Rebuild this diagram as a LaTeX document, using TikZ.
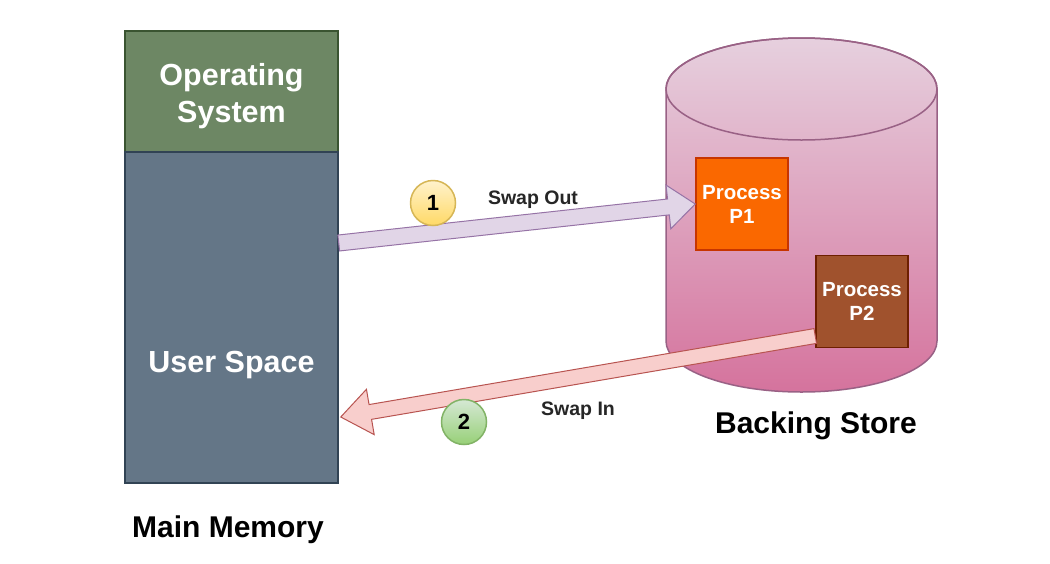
\documentclass[tikz,border=0pt]{standalone}
\usepackage{fontspec}
\setmainfont{Liberation Sans}
\usetikzlibrary{calc}
\definecolor{osfill}{HTML}{6D8764}
\definecolor{osdraw}{HTML}{3A5431}
\definecolor{usfill}{HTML}{647687}
\definecolor{usdraw}{HTML}{314354}
\definecolor{pofill}{HTML}{FA6800}
\definecolor{podraw}{HTML}{C73500}
\definecolor{ptfill}{HTML}{A0522D}
\definecolor{ptdraw}{HTML}{6D1F00}
\definecolor{cyltop}{HTML}{E6D0DE}
\definecolor{cylbot}{HTML}{D5739D}
\definecolor{cyldraw}{HTML}{996185}
\definecolor{outfill}{HTML}{E1D5E7}
\definecolor{outdraw}{HTML}{9673A6}
\definecolor{infill}{HTML}{F8CECC}
\definecolor{indraw}{HTML}{B85450}
\definecolor{ytop}{HTML}{FFF2CC}
\definecolor{ybot}{HTML}{FFD966}
\definecolor{ydraw}{HTML}{D6B656}
\definecolor{gtop}{HTML}{D5E8D4}
\definecolor{gbot}{HTML}{97D077}
\definecolor{gdraw}{HTML}{82B366}
\tikzset{
  membox/.style={rectangle, draw, line width=1.5pt, inner sep=0pt, minimum width=213pt},
  boxtext/.style={text=white, align=center, inner sep=0pt, font=\fontsize{30.5}{37}\selectfont\bfseries},
  procbox/.style={rectangle, draw, line width=1.5pt, inner sep=0pt, minimum width=92pt, minimum height=92pt,
     text=white, align=center, font=\fontsize{20.5}{24}\selectfont\bfseries},
  biglabel/.style={font=\fontsize{30}{36}\selectfont\bfseries, text=black, inner sep=0pt},
  smalllabel/.style={font=\fontsize{19.5}{22}\selectfont\bfseries, text=black!85, inner sep=0pt},
  numcircle/.style={circle, line width=1.5pt, minimum size=45pt, inner sep=0pt, font=\fontsize{22}{24}\selectfont\bfseries},
  blockout/.style={fill=outfill, draw=outdraw, line width=1pt, line join=miter},
  blockin/.style={fill=infill, draw=indraw, line width=1pt, line join=miter}
}
\begin{document}
\begin{tikzpicture}[x=1pt,y=-1pt]
\useasboundingbox[fill=white] (0,0) rectangle (1050,563);

% main memory
\node[membox, fill=osfill, draw=osdraw, minimum height=121pt] (os) at (231.5,91.5) {};
\node[boxtext] (ostext) at (231.5,96) {Operating\\System};
\node[membox, fill=usfill, draw=usdraw, minimum height=331pt] (us) at (231.5,317.5) {};
\node[boxtext] (ustext) at (231.5,365) {User Space};
\node[biglabel] (mm) at (228,530) {Main Memory};

% backing store cylinder
\shade[top color=cyltop, bottom color=cylbot, draw=cyldraw, line width=1.5pt]
  (666,89) -- (666,341) arc[start angle=180, end angle=0, x radius=135.5, y radius=51]
  -- (937,89) arc[start angle=0, end angle=-180, x radius=135.5, y radius=51] -- cycle;
\draw[cyldraw, line width=1.5pt] (801.5,89) ellipse[x radius=135.5, y radius=51];
\node[biglabel] (bs) at (816,426) {Backing Store};

% processes
\node[procbox, fill=pofill, draw=podraw] (p1) at (742,204) {Process\\P1};
\node[procbox, fill=ptfill, draw=ptdraw] (p2) at (862,301.5) {Process\\P2};

% swap out arrow
\coordinate (outS) at (us.east |- 0,243);
\coordinate (outT) at (p1.west);
\coordinate (outB) at ($(outT)!27pt!(outS)$);
\path[blockout]
  ($(outS)!8pt!90:(outT)$) -- ($(outB)!8pt!-90:(outS)$) -- ($(outB)!22pt!-90:(outS)$) -- (outT)
  -- ($(outB)!22pt!90:(outS)$) -- ($(outB)!8pt!90:(outS)$) -- ($(outS)!8pt!-90:(outT)$) -- cycle;

% swap in arrow
\coordinate (inS) at (p2.west |- 0,336);
\coordinate (inT) at ([xshift=2pt]us.east |- 0,417);
\coordinate (inB) at ($(inT)!30pt!(inS)$);
\path[blockin]
  ($(inS)!7.5pt!90:(inT)$) -- ($(inB)!7.5pt!-90:(inS)$) -- ($(inB)!23pt!-90:(inS)$) -- (inT)
  -- ($(inB)!23pt!90:(inS)$) -- ($(inB)!7.5pt!90:(inS)$) -- ($(inS)!7.5pt!-90:(inT)$) -- cycle;

% step circles
\node[numcircle, top color=ytop, bottom color=ybot, draw=ydraw] (c1) at (433,203) {1};
\node[numcircle, top color=gtop, bottom color=gbot, draw=gdraw] (c2) at (464,422) {2};

\node[smalllabel] (lout) at (533,200) {Swap Out};
\node[smalllabel] (lin) at (578,411) {Swap In};
\end{tikzpicture}
\end{document}
